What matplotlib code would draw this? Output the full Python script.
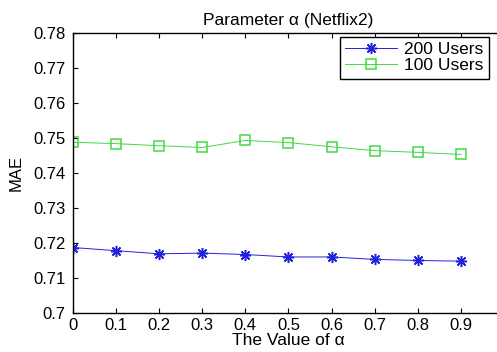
import matplotlib
matplotlib.use('Agg')
import matplotlib.pyplot as plt

alpha = [0, 0.1, 0.2, 0.3, 0.4, 0.5, 0.6, 0.7, 0.8, 0.9]
mae_200 = [0.7187, 0.7178, 0.7169, 0.7171, 0.7167, 0.7160, 0.7160, 0.7153, 0.7150, 0.7148]
mae_100 = [0.7488, 0.7484, 0.7478, 0.7473, 0.7493, 0.7487, 0.7475, 0.7464, 0.7459, 0.7453]
yticks = [0.7, 0.71, 0.72, 0.73, 0.74, 0.75, 0.76, 0.77, 0.78]
ytick_labels = ['0.7', '0.71', '0.72', '0.73', '0.74', '0.75', '0.76', '0.77', '0.78']

plt.rcParams['font.family'] = ['Liberation Sans', 'DejaVu Sans']

fig = plt.figure(figsize=(4.97, 3.52), dpi=100)
# right edge of the axes falls just outside the picture, as in the original
ax = fig.add_axes([0.1463, 0.111, 0.868, 0.795])

ax.plot(alpha, mae_200, color='#2222dd', lw=0.7, marker=(8, 2, 0), ms=8, mew=1.1,
        label='200 Users')
ax.plot(alpha, mae_100, color='#44d844', lw=0.7, marker='s', ms=6.5, mew=1.1,
        mfc='none', label='100 Users')

ax.set_xlim(0, 1)
ax.set_ylim(0.7, 0.78)
ax.set_xticks(alpha)
ax.set_xticklabels([f'{a:g}' for a in alpha])
ax.set_yticks(yticks)
ax.set_yticklabels(ytick_labels)
ax.tick_params(direction='in', top=True, right=False, length=3.5, width=0.8,
               labelsize=12)
ax.tick_params(axis='x', pad=4)
ax.tick_params(axis='y', pad=5)
ax.spines['right'].set_visible(False)
for s in ax.spines.values():
    s.set_linewidth(1.0)

ax.set_title('Parameter α (Netflix2)', fontsize=12.5, pad=6)
ax.set_xlabel('The Value of α', fontsize=12.5, labelpad=0)
ax.set_ylabel('MAE', fontsize=12, labelpad=7)

leg = ax.legend(loc='upper right', bbox_to_anchor=(489 / 497, 1 - 37 / 352),
                bbox_transform=fig.transFigure, fontsize=12.5,
                handlelength=3.0, borderpad=0.3, labelspacing=0.05,
                handletextpad=0.4, borderaxespad=0, fancybox=False,
                framealpha=1, edgecolor='black')
leg.get_frame().set_linewidth(1.0)

fig.savefig('out.png', dpi=100)
